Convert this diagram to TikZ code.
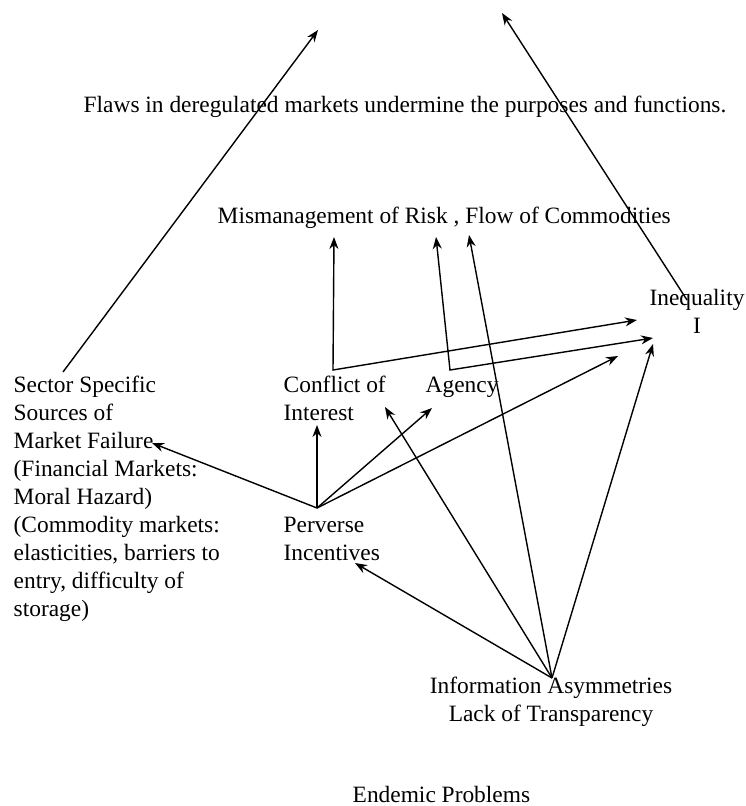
\documentclass[tikz,border=0pt]{standalone}
\usepackage{fontspec}
\setmainfont{Liberation Serif}
\usetikzlibrary{arrows.meta}

\begin{document}
\begin{tikzpicture}[x=1pt,y=-1pt,>={Stealth[length=12pt,width=9pt]},line width=1.4pt,
  lbl/.style={inner sep=0pt,anchor=base west,align=left,font=\fontsize{23.4}{28}\selectfont}]
\useasboundingbox (0,0) rectangle (745,806);
\node[lbl] (flaws) at (83,112) {Flaws in deregulated markets undermine the purposes and functions.};
\node[lbl] (misman) at (217,223) {Mismanagement of Risk , Flow of Commodities};
\node[lbl,align=center,anchor=base] (ineq) at (697,333) {Inequality\\I};
\node[lbl] (conflict) at (283,420) {Conflict of\\Interest};
\node[lbl] (agency) at (425,392) {Agency};
\node[lbl] (perverse) at (283,560) {Perverse\\Incentives};
\node[lbl] (sector) at (13,616) {Sector Specific\\Sources of\\Market Failure\\(Financial Markets:\\Moral Hazard)\\(Commodity markets:\\elasticities, barriers to\\entry, difficulty of\\storage)};
\node[lbl,align=center,anchor=base] (info) at (551,721) {Information Asymmetries\\Lack of Transparency};
\node[lbl] (endemic) at (352,802) {Endemic Problems};
\coordinate (pv) at (317,508);
\coordinate (ia) at (552,678);
\coordinate (seclow) at (63,372);
\coordinate (ineqlow) at (687,300);
\coordinate (upl) at (318,30);
\coordinate (upr) at (502,13);
\coordinate (cfturn) at (333,370);
\coordinate (agturn) at (450,370);
\coordinate (risk) at (334,237);
\coordinate (riskb) at (436,237);
\coordinate (flow) at (469,235);
\coordinate (ineqa) at (637,320);
\coordinate (ineqb) at (653,338);
\coordinate (ineqc) at (653,344);
\coordinate (ineqd) at (618,356);
\coordinate (failure) at (152,443);
\coordinate (interest) at (317,425);
\coordinate (agencyin) at (432,408);
\coordinate (conflictin) at (385,407);
\coordinate (incent) at (355,563);
\draw[->] (seclow)--(upl);
\draw[->] (ineqlow)--(upr);
\draw[<->] (risk)--(cfturn)--(ineqa);
\draw[<->] (riskb)--(agturn)--(ineqb);
\foreach \t in {failure,interest,agencyin,ineqd} {\draw[->] (pv)--(\t);}
\foreach \t in {incent,conflictin,flow,ineqc} {\draw[->] (ia)--(\t);}
\end{tikzpicture}
\end{document}
